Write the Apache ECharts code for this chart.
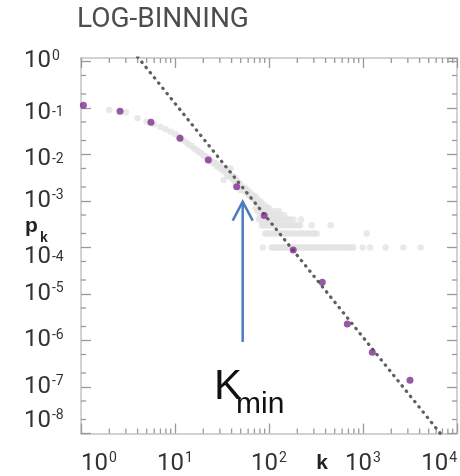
<!DOCTYPE html>
<html>
<head>
<meta charset="utf-8">
<script src="https://cdn.jsdelivr.net/npm/echarts@6/dist/echarts.min.js"></script>
<style>
  html, body { margin: 0; padding: 0; background: #fff; }
  #chart { width: 460px; height: 476px; }
</style>
</head>
<body>
<div id="chart"></div>
<script>
// log-binned averages (purple)
const binK = [1.06, 2.6, 5.55, 11.3, 22.6, 45.3, 89, 181, 369, 681, 1256, 3162];
const binP = [0.114, 0.085, 0.0493, 0.0223, 0.0076, 0.00203, 4.9e-4, 8.8e-5, 1.79e-5, 2.26e-6, 5.57e-7, 1.39e-7];

// raw p_k, upper part of the curve (grey)
const rawK = [2, 3, 4, 5, 6, 7, 8, 9, 10, 11, 12, 13, 14, 15, 16, 17, 18, 19, 20,
  21, 22, 23, 24, 25, 26, 27, 28, 29, 30, 31, 32, 33, 34, 35, 36, 37, 38, 39, 40,
  41, 42, 43, 44, 45, 46, 47, 48, 49, 50, 52, 53, 55, 56, 58, 59, 61, 62, 64, 66,
  68, 70, 72, 74, 76, 78, 80, 82, 85, 88, 91, 95];
const rawP = [0.0906, 0.0809, 0.060, 0.0513, 0.0446, 0.0396, 0.0348, 0.0309, 0.0276, 0.0246,
  0.0210, 0.0186, 0.0164, 0.0152, 0.0135, 0.0125, 0.0113, 0.0108, 0.0095,
  0.0093, 0.0082, 0.0084, 0.0071, 0.0072, 0.0064, 0.0066, 0.0055, 0.0059, 0.0051,
  0.0053, 0.0045, 0.00283, 0.0049, 0.0040, 0.00345, 0.0044, 0.00353, 0.0050, 0.00312,
  0.00345, 0.00283, 0.00328, 0.00244, 0.00276, 0.00221, 0.00256, 0.0020, 0.00232, 0.00173,
  0.00205, 0.00181, 0.0016, 0.0019, 0.00149, 0.00173, 0.00135, 0.00156, 0.00122, 0.00138,
  0.0011, 0.00128, 0.0010, 0.00116, 0.00088, 0.00103, 0.00082, 0.00095, 0.00074, 0.00084,
  0.00067, 0.00074];

// raw p_k in the tail: nodes counted once, twice, ... (rows of grey dots)
const tailP = [1e-4, 2e-4, 3e-4, 4e-4, 5e-4, 6e-4, 7e-4];
const tailK = [
  [86, 107, 111, 116, 121, 127, 133, 139, 146, 153, 160, 168, 177, 186, 195, 205, 216, 227,
    239, 251, 264, 278, 293, 309, 326, 344, 363, 383, 405, 428, 452, 478, 505, 534, 565, 598,
    633, 670, 710, 752, 790, 993, 1187, 1742, 2686, 4110],
  [91, 95, 99, 104, 109, 114, 120, 126, 133, 140, 148, 156, 165, 174, 184, 195, 214, 226,
    239, 253, 268, 284, 302, 321, 1094],
  [84, 88, 93, 98, 103, 108, 115, 121, 128, 136, 144, 153, 162, 172, 182, 193, 205, 214, 284, 453],
  [78, 82, 87, 92, 97, 103, 110, 118, 126, 135, 146, 158, 170, 182, 219],
  [80, 85, 90, 96, 104, 112, 121, 130, 145],
  [76, 82, 90, 98, 108, 117, 128],
  [72, 80, 88, 100]
];

// power-law fit (dotted)
const fitK = [4, 10000];
const fitP = [1.26, 3.6e-9];

// K_min arrow
const kMin = 52.5;
const arrowP = [9.66e-4, 9.3e-7];

// minor ticks
const xMinorTicks = [2, 3, 4, 5, 6, 7, 8, 9, 20, 30, 40, 50, 60, 70, 80, 90,
  200, 300, 400, 500, 600, 700, 800, 900, 2000, 3000, 4000, 5000, 6000, 7000, 8000, 9000];
const yMinorTicks = [0.5, 0.2, 0.05, 0.02, 5e-3, 2e-3, 5e-4, 2e-4, 5e-5, 2e-5,
  5e-6, 2e-6, 5e-7, 2e-7, 5e-8, 2e-8];

const rawData = rawK.map((k, i) => [k, rawP[i]]);
tailK.forEach((ks, r) => ks.forEach(k => rawData.push([k, tailP[r]])));

const chart = echarts.init(document.getElementById('chart'));

const tickColor = '#999';
// y labels in the original sit a little off their ticks (exponent -> px of top padding)
const yLabelShift = { 1: 10, 2: 10, 4: 20 };
const labelRich = {
  b: { fontFamily: 'Roboto', fontSize: 24, color: '#333', lineHeight: 26 },
  s: { fontFamily: 'Roboto', fontSize: 14, color: '#333', verticalAlign: 'top', padding: [1, 0, 0, 1] }
};
Object.keys(yLabelShift).forEach(e => {
  const pad = yLabelShift[e];
  labelRich['bm' + e] = Object.assign({}, labelRich.b, { padding: [pad, 0, 0, 0] });
  labelRich['sm' + e] = Object.assign({}, labelRich.s, { padding: [pad + 1, 0, 0, 1] });
});
function powLabel(v) {
  return '{b|10}{s|' + Math.round(Math.log10(v)) + '}';
}
function yLabel(v) {
  const e = Math.round(Math.log10(v));
  if (yLabelShift[-e]) return '{bm' + (-e) + '|10}{sm' + (-e) + '|' + e + '}';
  return powLabel(v);
}

function logAxis(opts) {
  return Object.assign({
    type: 'log',
    logBase: 10,
    axisLine: { show: true, lineStyle: { color: '#c4c4c4', width: 1.5 } },
    axisTick: { show: true, inside: true, length: 10, lineStyle: { color: tickColor, width: 1.3 } },
    splitLine: { show: false },
    axisLabel: { show: false }
  }, opts);
}

const option = {
  animation: false,
  grid: { left: 81, top: 58, width: 376, height: 375.5, outerBoundsMode: 'none' },
  xAxis: [
    logAxis({
      min: 1, max: 10000, splitNumber: 4, position: 'bottom',
      axisLabel: {
        show: true, margin: 17, formatter: powLabel, rich: labelRich,
        alignMinLabel: 'left', alignMaxLabel: 'right'
      }
    }),
    logAxis({ min: 1, max: 10000, splitNumber: 4, position: 'top' })
  ],
  yAxis: [
    logAxis({
      min: 1e-8, max: 1.189, splitNumber: 8, position: 'left',
      axisLabel: {
        show: true, margin: 57, align: 'left', formatter: yLabel, rich: labelRich,
        verticalAlignMinLabel: 'bottom', verticalAlignMaxLabel: 'top'
      }
    }),
    logAxis({ min: 1e-8, max: 1.189, splitNumber: 8, position: 'right' })
  ],
  series: [
    {
      name: 'raw',
      type: 'scatter',
      data: rawData,
      symbolSize: 6.5,
      itemStyle: { color: '#e3e3e3' },
      z: 2
    },
    {
      name: 'fit',
      type: 'line',
      data: fitK.map((k, i) => [k, fitP[i]]),
      showSymbol: false,
      clip: true,
      lineStyle: { color: '#5f5f5f', width: 3.2, type: [0.5, 6.2], cap: 'round' },
      z: 3
    },
    {
      name: 'log-binned',
      type: 'scatter',
      data: binK.map((k, i) => [k, binP[i]]),
      symbolSize: 7,
      itemStyle: { color: '#7d2e8d' },
      z: 4
    },
    {
      name: 'kmin',
      type: 'custom',
      silent: true,
      data: [[kMin, arrowP[0], arrowP[1]]],
      encode: { x: 0, y: [1, 2] },
      renderItem(params, api) {
        const tip = api.coord([api.value(0), api.value(1)]);
        const end = api.coord([api.value(0), api.value(2)]);
        const st = { stroke: '#4a7dbf', lineWidth: 2.5, fill: null };
        return {
          type: 'group',
          children: [
            { type: 'line', shape: { x1: tip[0], y1: tip[1] + 1, x2: end[0], y2: end[1] }, style: st },
            { type: 'polyline', shape: { points: [[tip[0] - 10, tip[1] + 19], [tip[0], tip[1]], [tip[0] + 10, tip[1] + 19]] }, style: st }
          ]
        };
      },
      z: 6
    },
    {
      name: 'xminor',
      type: 'custom',
      silent: true,
      data: xMinorTicks.map(v => [v, 0.01]),
      renderItem(params, api) {
        const x = api.coord([api.value(0), 0.01])[0];
        const cs = params.coordSys;
        const st = { stroke: tickColor, lineWidth: 1.3 };
        return {
          type: 'group',
          children: [
            { type: 'line', shape: { x1: x, y1: cs.y + cs.height, x2: x, y2: cs.y + cs.height - 5 }, style: st },
            { type: 'line', shape: { x1: x, y1: cs.y, x2: x, y2: cs.y + 5 }, style: st }
          ]
        };
      },
      z: 1
    },
    {
      name: 'yminor',
      type: 'custom',
      silent: true,
      data: yMinorTicks.map(v => [10, v]),
      renderItem(params, api) {
        const y = api.coord([10, api.value(1)])[1];
        const cs = params.coordSys;
        const st = { stroke: tickColor, lineWidth: 1.3 };
        return {
          type: 'group',
          children: [
            { type: 'line', shape: { x1: cs.x, y1: y, x2: cs.x + 5, y2: y }, style: st },
            { type: 'line', shape: { x1: cs.x + cs.width, y1: y, x2: cs.x + cs.width - 5, y2: y }, style: st }
          ]
        };
      },
      z: 1
    }
  ],
  graphic: [
    {
      type: 'text',
      style: { text: 'LOG-BINNING', x: 77, y: 20, font: '400 28px Roboto', fill: '#4d4d4d',
        verticalAlign: 'middle', textVerticalAlign: 'middle' }
    },
    {
      type: 'text',
      style: { text: 'p', x: 25, y: 226, font: 'bold 21px "Liberation Sans"', fill: '#222',
        verticalAlign: 'middle', textVerticalAlign: 'middle' }
    },
    {
      type: 'text',
      style: { text: 'k', x: 40, y: 238, font: 'bold 14px "Liberation Sans"', fill: '#222',
        verticalAlign: 'middle', textVerticalAlign: 'middle' }
    },
    {
      type: 'text',
      style: { text: 'k', x: 322, y: 463, font: 'bold 21px "Liberation Sans"', fill: '#222',
        align: 'center', textAlign: 'center', verticalAlign: 'middle', textVerticalAlign: 'middle' }
    },
    {
      type: 'text',
      style: { text: 'K', x: 214, y: 387, font: '42px "Liberation Sans"', fill: '#111',
        verticalAlign: 'middle', textVerticalAlign: 'middle' }
    },
    {
      type: 'text',
      style: { text: 'min', x: 236, y: 405, font: '30px "Liberation Sans"', fill: '#111',
        verticalAlign: 'middle', textVerticalAlign: 'middle' }
    }
  ]
};

chart.setOption(option);
</script>
</body>
</html>
